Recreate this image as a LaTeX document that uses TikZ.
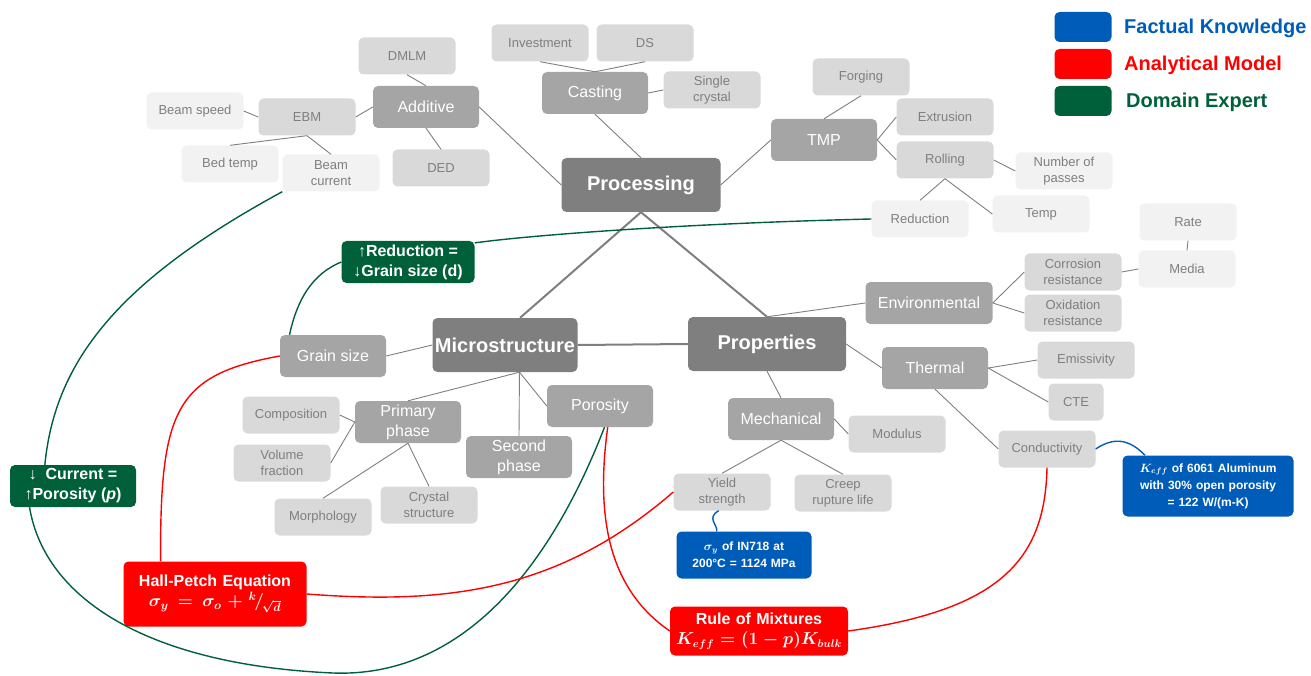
\documentclass[tikz,border=0pt]{standalone}
\usepackage{amsmath}
\usepackage{fontspec}
\setmainfont{Liberation Sans}
\usepackage{xcolor}
\usepackage{tikz}
\definecolor{hubgray}{HTML}{7F7F7F}
\definecolor{branchgray}{HTML}{A5A5A5}
\definecolor{twiggray}{HTML}{D9D9D9}
\definecolor{leafgray}{HTML}{F2F2F2}
\definecolor{factblue}{HTML}{005CB9}
\definecolor{modelred}{HTML}{FF0000}
\definecolor{expertgreen}{HTML}{00603A}
\tikzset{
  box/.style={rounded corners=5pt, inner sep=0pt, align=center},
  hub/.style={box, fill=hubgray, text=white, minimum height=54pt, font=\fontsize{20}{24}\selectfont\bfseries},
  branch/.style={box, fill=branchgray, text=white, minimum width=106pt, minimum height=42pt, font=\fontsize{16}{20}\selectfont},
  twig/.style={box, fill=twiggray, text=hubgray, minimum width=97pt, minimum height=37pt, font=\fontsize{13}{16}\selectfont},
  leaf/.style={twig, fill=leafgray},
  notebox/.style={box, text=white, font=\fontsize{16}{20}\selectfont\bfseries\boldmath},
  factbox/.style={notebox, fill=factblue, font=\fontsize{12}{17}\selectfont\bfseries\boldmath},
  modelbox/.style={notebox, fill=modelred},
  expertbox/.style={notebox, fill=expertgreen, minimum height=42pt},
  legbox/.style={box, minimum width=57pt, minimum height=30pt},
  legtxt/.style={anchor=west, inner sep=0pt, font=\fontsize{20}{22}\selectfont\bfseries},
  tree/.style={draw=hubgray, line width=0.9pt},
  trunk/.style={draw=hubgray, line width=2pt},
  factlink/.style={draw=factblue, line width=1.4pt},
  modellink/.style={draw=modelred, line width=1.4pt},
  expertlink/.style={draw=expertgreen, line width=1.4pt},
}
\begin{document}
\begin{tikzpicture}[x=1pt, y=-1pt]
  \useasboundingbox (0,0) rectangle (1311,676);
  % main nodes
  \node[hub, minimum width=159pt] (proc) at (641,185) {Processing};
  \node[hub, minimum width=145pt] (micro) at (505,345) {Microstructure};
  \node[hub, minimum width=158pt] (prop) at (767,344) {Properties};
  % processing
  \node[branch] (addit) at (426,107) {Additive};
  \node[branch] (cast) at (595,93) {Casting};
  \node[branch] (tmp) at (824,140) {TMP};
  \node[twig] (dmlm) at (407,56) {DMLM};
  \node[twig] (ebm) at (307,117) {EBM};
  \node[twig] (ded) at (441,168) {DED};
  \node[leaf] (bspeed) at (195,111) {Beam speed};
  \node[leaf] (btemp) at (230,164) {Bed temp};
  \node[leaf] (bcur) at (331,173) {Beam\\current};
  \node[twig] (invest) at (540,43) {Investment};
  \node[twig] (ds) at (645,43) {DS};
  \node[twig] (sxtal) at (712,90) {Single\\crystal};
  \node[twig] (forge) at (861,77) {Forging};
  \node[twig] (extru) at (945,117) {Extrusion};
  \node[twig] (roll) at (945,160) {Rolling};
  \node[leaf] (npass) at (1064,171) {Number of\\passes};
  \node[leaf] (rtemp) at (1041,214) {Temp};
  \node[leaf] (reduc) at (920,219) {Reduction};
  % microstructure
  \node[branch] (gsize) at (333,356) {Grain size};
  \node[branch] (prim) at (408,422) {Primary\\phase};
  \node[branch] (second) at (519,457) {Second\\phase};
  \node[branch] (poro) at (600,406) {Porosity};
  \node[twig] (comp) at (291,415) {Composition};
  \node[twig] (volf) at (282,463) {Volume\\fraction};
  \node[twig] (morph) at (323,517) {Morphology};
  \node[twig] (cstruc) at (429,505) {Crystal\\structure};
  % properties
  \node[branch] (mech) at (781,419) {Mechanical};
  \node[branch, minimum width=127pt] (env) at (929,303) {Environmental};
  \node[branch] (therm) at (935,368) {Thermal};
  \node[twig] (yld) at (722,492) {Yield\\strength};
  \node[twig] (creep) at (843,493) {Creep\\rupture life};
  \node[twig] (modul) at (897,434) {Modulus};
  \node[twig] (corr) at (1073,272) {Corrosion\\resistance};
  \node[twig] (oxid) at (1073,313) {Oxidation\\resistance};
  \node[leaf] (rate) at (1188,222) {Rate};
  \node[leaf] (media) at (1187,269) {Media};
  \node[twig] (emis) at (1086,360) {Emissivity};
  \node[twig, minimum width=55pt] (cte) at (1076,402) {CTE};
  \node[twig] (cond) at (1047,449) {Conductivity};
  % notes
  \node[expertbox, minimum width=133pt] (upred) at (408,262) {↑Reduction =\\↓Grain size (d)};
  \node[expertbox, minimum width=126pt] (curr) at (73,486) {↓\ \ Current =\\↑Porosity (\textit{p})};
  \node[modelbox, minimum width=183pt, minimum height=65pt, text width=175pt] (hall) at (215,594) {Hall-Petch Equation\\\fontsize{18}{22}\selectfont$\sigma_y=\sigma_o+{}^{k}\mkern-2mu/\mkern-2mu{}_{\sqrt{d}}$};
  \node[modelbox, minimum width=178pt, minimum height=49pt, text width=170pt] (mix) at (759,631) {Rule of Mixtures\\$K_{eff}=(1-p)K_{bulk}$};
  \node[factbox, minimum width=135pt, minimum height=47pt, text width=130pt] (sig) at (744,555) {$\sigma_y$ of IN718 at\\200°C = 1124 MPa};
  \node[factbox, minimum width=171pt, minimum height=61pt, text width=165pt] (keff) at (1208,486) {$K_{eff}$ of 6061 Aluminum\\with 30\% open porosity\\= 122 W/(m-K)};
  % legend
  \node[legbox, fill=factblue] (legfact) at (1083,27) {};
  \node[legbox, fill=modelred] (legmodel) at (1083,64) {};
  \node[legbox, fill=expertgreen] (legexpert) at (1083,101) {};
  \node[legtxt, text=factblue] (txtfact) at (1124,28) {Factual Knowledge};
  \node[legtxt, text=modelred] (txtmodel) at (1124,65) {Analytical Model};
  \node[legtxt, text=expertgreen] (txtexpert) at (1126,102) {Domain Expert};

  \draw[trunk] (proc.south) -- (micro.61);
  \draw[trunk] (proc.south) -- (prop.north);
  \draw[trunk] (micro.east) -- (prop.west);

  \draw[tree] (addit.east) -- (proc.west);
  \draw[tree] (cast.south) -- (proc.north);
  \draw[tree] (proc.east) -- (tmp.west);
  \draw[tree] (dmlm.south) -- (addit.north);
  \draw[tree] (ebm.east) -- (addit.west);
  \draw[tree] (addit.south) -- (ded.north);
  \draw[tree] (bspeed.east) -- (ebm.west);
  \draw[tree] (ebm.south) -- (btemp.north);
  \draw[tree] (ebm.south) -- (bcur.north);
  \draw[tree] (invest.south) -- (cast.north);
  \draw[tree] (ds.south) -- (cast.north);
  \draw[tree] (cast.east) -- (sxtal.west);
  \draw[tree] (tmp.north) -- (forge.south);
  \draw[tree] (tmp.east) -- (extru.west);
  \draw[tree] (tmp.east) -- (roll.west);
  \draw[tree] (roll.east) -- (npass.west);
  \draw[tree] (roll.south) -- (reduc.north);
  \draw[tree] (roll.south) -- (rtemp.west);

  \draw[tree] (gsize.east) -- (micro.west);
  \draw[tree] (micro.-62) -- (prim.north);
  \draw[tree] (micro.-62) -- (second.north);
  \draw[tree] (micro.-62) -- (poro.west);
  \draw[tree] (comp.east) -- (prim.west);
  \draw[tree] (prim.west) -- (volf.east);
  \draw[tree] (prim.south) -- (morph.north);
  \draw[tree] (prim.south) -- (cstruc.north);

  \draw[tree] (prop.north) -- (env.west);
  \draw[tree] (prop.east) -- (therm.west);
  \draw[tree] (prop.south) -- (mech.north);
  \draw[tree] (mech.east) -- (modul.west);
  \draw[tree] (mech.south) -- (yld.north);
  \draw[tree] (mech.south) -- (creep.north);
  \draw[tree] (env.east) -- (corr.west);
  \draw[tree] (env.east) -- (oxid.west);
  \draw[tree] (corr.east) -- (media.west);
  \draw[tree] (media.north) -- (rate.south);
  \draw[tree] (therm.east) -- (emis.west);
  \draw[tree] (therm.east) -- (cte.west);
  \draw[tree] (therm.south) -- (cond.west);

  \draw[expertlink] (reduc.west) .. controls (700,223) and (540,234) .. (upred.16);
  \draw[expertlink] (upred.west) .. controls (312,274) and (297,300) .. (gsize.154);
  \draw[expertlink] (bcur.south west) .. controls (120,280) and (55,360) .. (curr.143);
  \draw[expertlink] (curr.206) .. controls (45,600) and (150,665) .. (333,673)
    .. controls (470,678) and (555,555) .. (poro.-78);
  \draw[modellink] (gsize.west) .. controls (175,375) and (160,410) .. (hall.149);
  \draw[modellink] (hall.east) .. controls (450,605) and (560,590) .. (yld.west);
  \draw[modellink] (poro.-70) .. controls (595,520) and (610,590) .. (mix.west);
  \draw[modellink] (mix.east) .. controls (1000,610) and (1045,560) .. (cond.south);
  \draw[factlink] (yld.260) .. controls (706,518) and (718,525) .. (sig.139);
  \draw[factlink] (cond.east) .. controls (1115,436) and (1130,440) .. (keff.154);
\end{tikzpicture}
\end{document}
